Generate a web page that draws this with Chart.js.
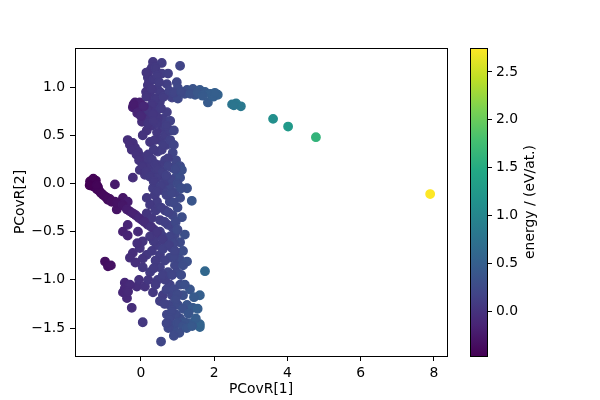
<!DOCTYPE html>
<html>
<head>
<meta charset="utf-8">
<script src="https://cdn.jsdelivr.net/npm/chart.js@4.4.1/dist/chart.umd.min.js"></script>
<style>
  html, body { margin: 0; padding: 0; background: #fff; }
  #wrap { position: relative; width: 600px; height: 400px; }
  #wrap canvas { position: absolute; left: 0; top: 0; }
</style>
</head>
<body>
<div id="wrap">
  <canvas id="scatterChart" width="600" height="400"></canvas>
  <canvas id="colorbarChart" width="600" height="400"></canvas>
</div>
<script>
// Points: PCovR[1], PCovR[2] and energy (eV/at.)
const pcovr1 = [
  0.33, 0.57, 1.07, 0.30, 0.57, 0.74, 0.19, 0.19, 0.44, 0.71,
  0.98, 1.01, 1.26, 1.42, 1.61, 1.75, 1.89, 2.10, 1.83, 2.49,
  2.60, 2.73, 2.54, 3.61, 4.02, 4.78, 7.90, 0.66, 0.85, 1.01,
  0.52, 0.33, -0.16, -0.03, -0.08, 0.05, 0.11, 0.03, 0.25, 0.41,
  0.60, 0.60, 0.30, 0.44, 0.16, -0.36, -0.22, -0.16, -0.08, 0.00,
  0.11, 0.19, 0.30, 0.44, 0.25, 0.52, 0.71, 0.87, 0.96, 1.07,
  0.87, 0.66, 0.46, 0.52, 0.98, 1.26, 0.79, 0.60, 0.33, -0.22,
  -0.71, -1.39, -1.31, -1.23, -1.17, -1.09, -0.96, -0.85, -0.71, -0.57,
  -0.44, -0.30, -0.14, 0.03, 0.19, 0.36, 0.52, 0.68, 0.85, 1.01,
  -0.49, -0.36, -0.66, -0.90, -0.36, -0.49, -0.36, -0.08, 0.16, 0.44,
  0.79, 1.07, 1.39, 0.87, 1.12, 0.16, 0.30, 0.52, 0.87, 1.07,
  0.71, 0.44, -0.03, -0.22, 0.16, -0.30, 0.52, 1.07, -0.98, -0.90,
  -0.82, 0.05, 0.52, 0.74, 1.75, 0.25, 0.98, -0.44, -0.49, -0.38,
  -0.44, -0.11, 0.11, 0.33, 0.60, 0.79, 1.07, 1.34, 1.61, 0.79,
  1.01, 1.26, 1.42, -0.25, 0.05, 0.71, 1.07, 1.34, 1.61, 0.87,
  0.93, 0.55, 1.61, 0.52, 0.66, 0.85, 1.15, 0.96, 1.20, 0.46,
  0.38, 0.66, 0.79, 0.57, 0.74, 0.52, 0.66, 0.85, 0.93, 1.07,
  1.12, 0.11, -0.03, 0.38, 0.66, 0.52, 0.74, 0.93, 1.20, 0.79,
  0.93, 1.26, 0.46, 0.52, 0.25, 0.14, 0.38, 0.71, 0.05, -0.22,
  1.48, 1.20,
  // top column and arm
  0.25, 0.40, 0.22, 0.35, 0.45, 0.30, 0.15, 0.40, 0.30, 0.20,
  0.33, 0.45, 0.20, 0.35, 0.55, 0.62, 0.78, 0.90, 1.10, 1.35,
  1.55, 1.68, 1.98, 2.02, 0.50, 0.15, 0.80, 0.90, 0.70,
  // dark blob
  -0.12, -0.05, 0.00, -0.20, 0.08, -0.10, 0.00,
  // diagonal band
  -0.30, -0.25, -0.12, -0.05, 0.05, 0.15, 0.25, 0.35, 0.20, 0.30,
  0.35, 0.40, 0.45, 0.60, 0.70, 0.75, 0.62, 0.80, 0.90, 0.95,
  1.00, 1.10, 0.55, 0.45, 0.70, 0.85, 1.00, 0.90,
  // middle
  0.25, 0.40, 0.55, 0.65, 0.75, 0.95, 1.00, 0.60, 0.80, 0.35,
  0.25, 0.05, 0.90, 0.60, 0.30, 0.05, 0.40, 0.65, 0.90, 1.15,
  1.15, 0.35, 0.60, 0.85, 1.10, -0.15, -0.10,
  // dark arm
  -1.35, -1.27, -1.20, -1.13, -1.03, -0.92, -0.80, -0.65, -0.50, -0.38,
  -0.22, -0.05, 0.10, 0.28, 0.44, 0.60, 0.77, 0.93, -1.30, -1.40,
  -1.20,
  // lower
  0.70, 0.90, 1.00, 1.20, 1.45, 0.95, 1.15, 0.85, 1.30, 1.50,
  0.80, 1.00, 1.15, 0.75, 1.05, 1.25, 0.65, 0.40, 0.20, -0.05,
  -0.30, -0.35, 1.40, 1.55, 0.70, 0.90
];
const pcovr2 = [
  1.26, 1.25, 1.22, 1.20, 1.14, 1.14, 1.10, 1.02, 0.98, 1.03,
  1.05, 0.99, 0.97, 0.98, 0.97, 0.95, 0.93, 0.92, 0.84, 0.82,
  0.83, 0.80, 0.81, 0.67, 0.59, 0.48, -0.11, 0.92, 0.89, 0.88,
  0.85, 0.88, 0.84, 0.84, 0.78, 0.76, 0.71, 0.64, 0.67, 0.74,
  0.67, 0.58, 0.60, 0.53, 0.55, 0.45, 0.42, 0.37, 0.33, 0.28,
  0.22, 0.17, 0.12, 0.06, 0.43, 0.45, 0.40, 0.32, 0.24, 0.18,
  0.16, 0.24, 0.33, 0.19, 0.08, -0.05, -0.03, -0.07, -0.05, 0.06,
  -0.01, 0.02, -0.03, 0.03, -0.04, -0.10, -0.14, -0.16, -0.19, -0.20,
  -0.24, -0.29, -0.33, -0.38, -0.43, -0.48, -0.54, -0.61, -0.67, -0.73,
  -0.15, -0.19, -0.27, -0.17, -0.43, -0.50, -0.54, -0.50, -0.15, -0.19,
  -0.19, -0.15, -0.18, -0.33, -0.35, -0.31, -0.36, -0.50, -0.46, -0.61,
  -0.64, -0.64, -0.67, -0.72, -0.74, -0.77, -0.74, -0.79, -0.81, -0.86,
  -0.85, -0.87, -0.87, -0.92, -0.91, -0.92, -0.92, -1.03, -1.13, -1.19,
  -1.09, -1.07, -1.07, -1.13, -1.16, -1.05, -1.05, -1.10, -1.16, -1.26,
  -1.26, -1.26, -1.29, -1.29, -1.44, -1.36, -1.40, -1.45, -1.49, -1.47,
  -1.54, -1.64, -1.46, -1.22, -1.00, -1.16, -1.16, -1.36, -1.44, -1.00,
  0.45, 0.50, 0.55, 0.35, 0.26, 0.09, 0.02, 0.04, -0.09, 0.06,
  0.14, 0.09, 0.14, -0.12, -0.28, -0.38, -0.43, -0.53, -0.53, -0.77,
  -0.85, -0.81, 0.68, 0.95, 0.92, 0.95, 0.79, 0.74, 0.50, 0.79,
  0.92, 0.93,
  // top column and arm
  1.17, 1.20, 1.05, 1.08, 1.12, 0.98, 0.90, 0.88, 0.82, 0.76,
  0.72, 0.62, 0.62, 0.65, 0.78, 0.90, 0.96, 0.94, 0.95, 0.93,
  0.94, 0.91, 0.90, 0.94, 1.05, 1.15, 0.65, 0.55, 0.60,
  // dark blob
  0.80, 0.79, 0.82, 0.82, 0.80, 0.73, 0.70,
  // diagonal band
  0.40, 0.35, 0.30, 0.24, 0.18, 0.12, 0.07, 0.02, 0.30, 0.25,
  0.35, 0.20, 0.15, 0.12, 0.08, 0.18, 0.40, 0.45, 0.40, 0.15,
  0.00, -0.05, -0.02, -0.08, -0.12, -0.10, -0.25, -0.20,
  // middle
  -0.22, -0.28, -0.25, -0.40, -0.30, -0.40, -0.48, -0.55, -0.55, -0.60,
  -0.55, -0.60, -0.62, -0.68, -0.70, -0.78, -0.80, -0.80, -0.76, -0.70,
  -0.85, -0.88, -0.95, -0.95, -0.95, -0.82, -0.62,
  // dark arm
  -0.01, 0.00, -0.06, -0.08, -0.12, -0.15, -0.19, -0.20, -0.22, -0.27,
  -0.31, -0.36, -0.40, -0.45, -0.51, -0.58, -0.64, -0.70, 0.05, -0.02,
  -0.02,
  // lower
  -1.10, -1.10, -1.15, -1.05, -1.18, -1.20, -1.30, -1.32, -1.35, -1.40,
  -1.40, -1.45, -1.48, -1.50, -1.55, -1.50, -1.25, -1.05, -1.00, -1.00,
  -1.05, -1.12, -1.48, -1.30, -1.45, -1.58
];
const energy = [
  0.05, 0.10, 0.18, 0.05, 0.10, 0.12, 0.03, 0.03, 0.08, 0.12,
  0.20, 0.22, 0.30, 0.35, 0.42, 0.45, 0.48, 0.52, 0.45, 0.78,
  0.80, 0.82, 0.78, 1.12, 1.25, 1.62, 2.75, 0.12, 0.15, 0.22,
  0.08, 0.05, -0.20, -0.18, -0.22, -0.15, -0.10, -0.05, 0.00, 0.05,
  0.10, 0.10, 0.03, 0.05, 0.00, -0.05, -0.03, -0.02, 0.00, 0.02,
  0.05, 0.05, 0.08, 0.10, 0.03, 0.08, 0.12, 0.18, 0.20, 0.25,
  0.20, 0.12, 0.08, 0.10, 0.25, 0.32, 0.20, 0.15, 0.10, -0.05,
  -0.25, -0.47, -0.45, -0.44, -0.42, -0.40, -0.38, -0.35, -0.32, -0.30,
  -0.25, -0.20, -0.15, -0.10, -0.05, 0.00, 0.05, 0.10, 0.15, 0.20,
  -0.28, -0.22, -0.30, -0.38, -0.15, -0.18, -0.15, -0.08, 0.05, 0.10,
  0.20, 0.25, 0.38, 0.20, 0.28, 0.02, 0.05, 0.10, 0.18, 0.25,
  0.15, 0.08, 0.00, -0.05, 0.05, -0.05, 0.10, 0.25, -0.35, -0.33,
  -0.32, 0.05, 0.12, 0.18, 0.60, 0.08, 0.22, -0.12, -0.12, -0.10,
  -0.12, -0.05, 0.00, 0.05, 0.10, 0.15, 0.25, 0.38, 0.50, 0.20,
  0.25, 0.35, 0.42, -0.05, 0.05, 0.20, 0.30, 0.42, 0.55, 0.25,
  0.28, 0.20, 0.55, 0.12, 0.12, 0.18, 0.30, 0.25, 0.35, 0.10,
  0.05, 0.10, 0.12, 0.10, 0.12, 0.10, 0.12, 0.18, 0.20, 0.28,
  0.30, 0.05, 0.02, 0.08, 0.12, 0.10, 0.15, 0.20, 0.30, 0.18,
  0.20, 0.32, 0.05, 0.08, 0.03, 0.00, 0.05, 0.10, 0.00, -0.20,
  0.38, 0.28,
  // top column and arm
  0.04, 0.07, 0.03, 0.06, 0.08, 0.05, 0.02, 0.06, 0.04, 0.02,
  0.04, 0.06, 0.02, 0.05, 0.08, 0.10, 0.15, 0.18, 0.25, 0.33,
  0.40, 0.44, 0.50, 0.50, 0.09, 0.02, 0.15, 0.18, 0.12,
  // dark blob
  -0.21, -0.19, -0.17, -0.22, -0.12, -0.15, -0.10,
  // diagonal band
  -0.04, -0.03, -0.01, 0.01, 0.03, 0.05, 0.07, 0.08, 0.05, 0.07,
  0.07, 0.08, 0.09, 0.12, 0.15, 0.16, 0.11, 0.15, 0.18, 0.22,
  0.25, 0.28, 0.12, 0.10, 0.16, 0.20, 0.25, 0.22,
  // middle
  0.06, 0.08, 0.11, 0.13, 0.16, 0.22, 0.24, 0.12, 0.17, 0.07,
  0.05, 0.01, 0.20, 0.13, 0.06, 0.02, 0.08, 0.14, 0.20, 0.28,
  0.28, 0.08, 0.13, 0.19, 0.26, -0.04, -0.03,
  // dark arm
  -0.46, -0.45, -0.43, -0.41, -0.39, -0.37, -0.34, -0.31, -0.27, -0.22,
  -0.17, -0.12, -0.07, -0.02, 0.03, 0.08, 0.13, 0.18, -0.45, -0.47,
  -0.43,
  // lower
  0.16, 0.21, 0.24, 0.31, 0.44, 0.24, 0.31, 0.22, 0.38, 0.47,
  0.22, 0.27, 0.33, 0.22, 0.29, 0.37, 0.16, 0.08, 0.04, -0.02,
  -0.08, -0.09, 0.42, 0.48, 0.20, 0.26
];

// Tick labels
const xTicks = [0, 2, 4, 6, 8];
const yTicks = [-1.5, -1.0, -0.5, 0.0, 0.5, 1.0];
const cbarTicks = [0.0, 0.5, 1.0, 1.5, 2.0, 2.5];

// Viridis colormap, sampled every 0.1
const viridisStops = ['#440154', '#482475', '#414487', '#355f8d', '#2a788e', '#21918c',
                      '#22a884', '#44bf70', '#7ad151', '#bddf26', '#fde725'];

Chart.defaults.font.family = '"DejaVu Sans", sans-serif';
Chart.defaults.font.size = 13.9;
Chart.defaults.color = '#000';

function hexToRgb(hex) {
    const n = parseInt(hex.slice(1), 16);
    return [(n >> 16) & 255, (n >> 8) & 255, n & 255];
}

function viridis(t) {
    t = Math.max(0, Math.min(1, t));
    const pos = t * (viridisStops.length - 1);
    const i = Math.min(Math.floor(pos), viridisStops.length - 2);
    const f = pos - i;
    const a = hexToRgb(viridisStops[i]);
    const b = hexToRgb(viridisStops[i + 1]);
    const c = a.map((v, k) => Math.round(v + (b[k] - v) * f));
    return `rgb(${c[0]}, ${c[1]}, ${c[2]})`;
}

const eMin = Math.min(...energy);
const eMax = Math.max(...energy);
const pointColors = energy.map(e => viridis((e - eMin) / (eMax - eMin)));

function fmtTick(v) {
    const s = (Math.abs(v) < 1e-9 ? 0 : v).toFixed(1);
    return s.replace('-', '\u2212');
}

// Black box around the plotting area (matplotlib spines)
const framePlugin = {
    id: 'frame',
    afterDraw(chart) {
        const { ctx, chartArea: a } = chart;
        ctx.save();
        ctx.strokeStyle = '#000';
        ctx.lineWidth = 1;
        ctx.strokeRect(a.left + 0.5, a.top + 0.5, a.right - a.left, a.bottom - a.top);
        ctx.restore();
    }
};

// Colorbar label, rotated to read bottom-to-top
const cbarTitlePlugin = {
    id: 'cbarTitle',
    afterDraw(chart) {
        const { ctx, chartArea: a } = chart;
        ctx.save();
        ctx.translate(530, (a.top + a.bottom) / 2);
        ctx.rotate(-Math.PI / 2);
        ctx.font = '13.9px "DejaVu Sans", sans-serif';
        ctx.fillStyle = '#000';
        ctx.textAlign = 'center';
        ctx.textBaseline = 'middle';
        ctx.fillText('energy / (eV/at.)', 0, 0);
        ctx.restore();
    }
};

const tickGrid = { drawOnChartArea: false, drawTicks: true, tickLength: 5, color: '#000', lineWidth: 1 };

// Scatter plot
new Chart(document.getElementById('scatterChart'), {
    type: 'scatter',
    data: {
        datasets: [{
            data: pcovr1.map((x, i) => ({ x: x, y: pcovr2[i] })),
            pointBackgroundColor: pointColors,
            pointBorderColor: pointColors,
            pointRadius: 4.2,
            pointBorderWidth: 1.4
        }]
    },
    options: {
        responsive: false,
        animation: false,
        events: [],
        layout: { padding: { top: 48, right: 153, bottom: 0, left: 0 } },
        plugins: { legend: { display: false }, tooltip: { enabled: false } },
        scales: {
            x: {
                type: 'linear',
                min: -1.80,
                max: 8.36,
                afterFit: s => { s.height = 44; },
                afterBuildTicks: s => { s.ticks = xTicks.map(v => ({ value: v })); },
                grid: tickGrid,
                border: { display: false },
                ticks: { padding: 4, maxRotation: 0, callback: v => String(v) },
                title: { display: true, text: 'PCovR[1]', padding: { top: 0, bottom: 2 } }
            },
            y: {
                type: 'linear',
                min: -1.79,
                max: 1.405,
                afterFit: s => { s.width = 75; },
                afterBuildTicks: s => { s.ticks = yTicks.map(v => ({ value: v })); },
                grid: tickGrid,
                border: { display: false },
                ticks: { padding: 5, callback: fmtTick },
                title: { display: true, text: 'PCovR[2]', padding: { top: 12, bottom: 0 } }
            }
        }
    },
    plugins: [framePlugin]
});

// Colorbar drawn as one floating bar spanning the energy range
new Chart(document.getElementById('colorbarChart'), {
    type: 'bar',
    data: {
        labels: [''],
        datasets: [{
            data: [[eMin, eMax]],
            backgroundColor: ctx => {
                const area = ctx.chart.chartArea;
                if (!area) return viridisStops[0];
                const g = ctx.chart.ctx.createLinearGradient(0, area.bottom, 0, area.top);
                viridisStops.forEach((c, i) => g.addColorStop(i / (viridisStops.length - 1), c));
                return g;
            },
            borderWidth: 0,
            barPercentage: 1,
            categoryPercentage: 1
        }]
    },
    options: {
        responsive: false,
        animation: false,
        events: [],
        layout: { padding: { top: 48, right: 0, bottom: 44, left: 470 } },
        plugins: { legend: { display: false }, tooltip: { enabled: false } },
        scales: {
            x: { display: false },
            y: {
                position: 'right',
                min: eMin,
                max: eMax,
                afterFit: s => { s.width = 113; },
                afterBuildTicks: s => { s.ticks = cbarTicks.map(v => ({ value: v })); },
                grid: tickGrid,
                border: { display: false },
                ticks: { padding: 4, callback: fmtTick }
            }
        }
    },
    plugins: [framePlugin, cbarTitlePlugin]
});
</script>
</body>
</html>
